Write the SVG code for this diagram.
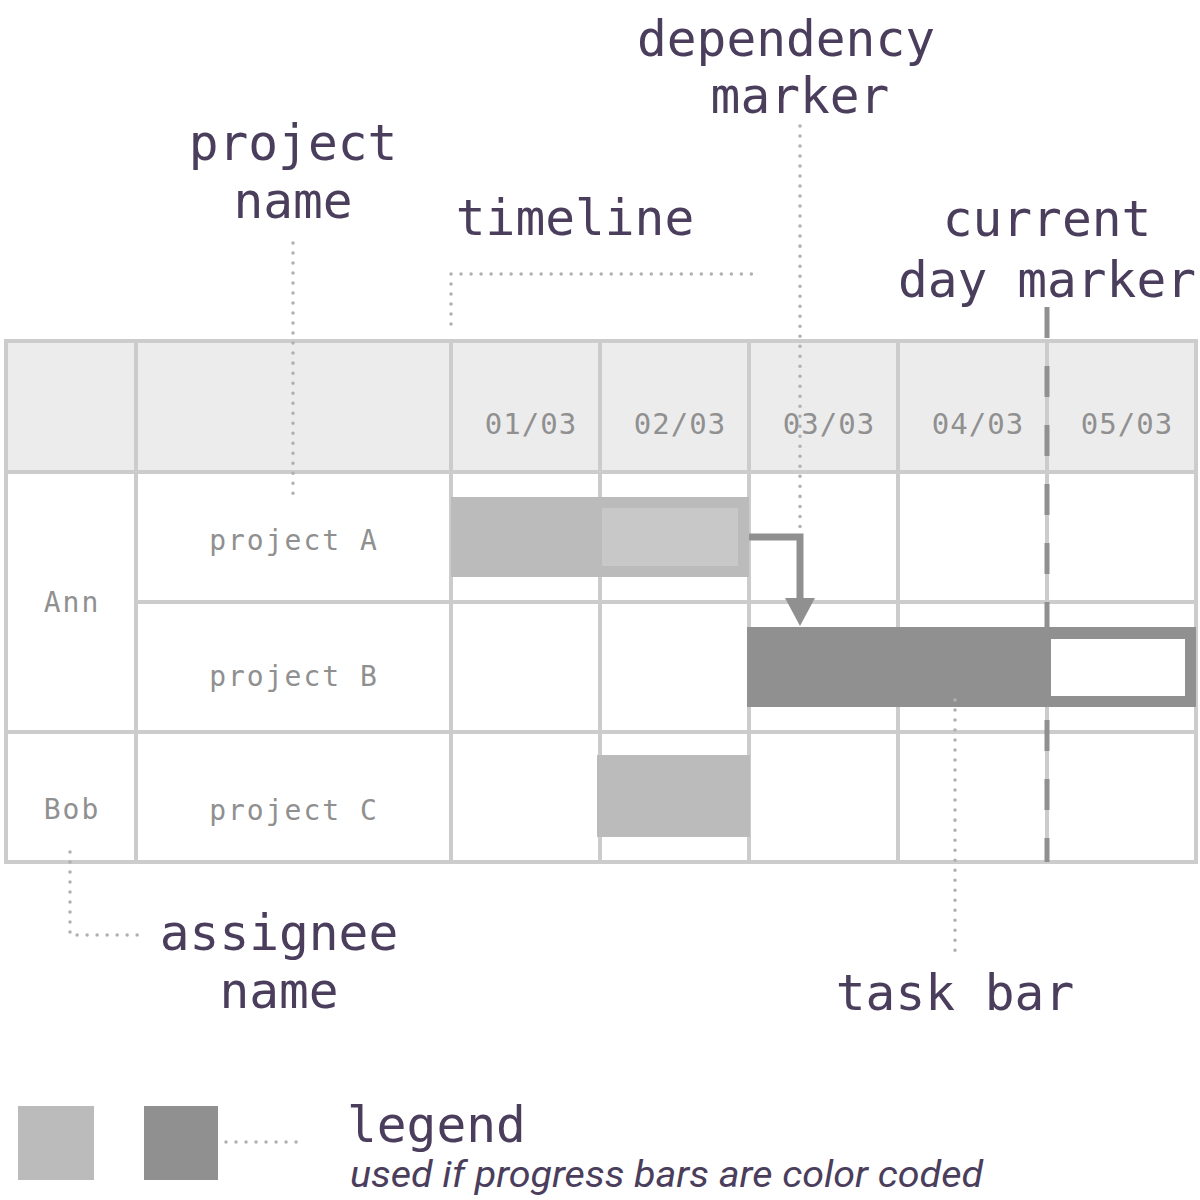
<svg xmlns="http://www.w3.org/2000/svg" width="1200" height="1200" viewBox="0 0 1200 1200">
<style>
.grid{stroke:#cccccc;stroke-width:4;fill:none}
.lead{stroke:#b0b0b0;stroke-width:3.5;stroke-linecap:round;stroke-dasharray:0.01 10;fill:none}
.big{font-family:"DejaVu Sans Mono","Liberation Mono",monospace;font-size:49.5px;fill:#4a3e5c;text-anchor:middle}
.hdr{font-family:"DejaVu Sans Mono","Liberation Mono",monospace;font-size:29px;fill:#909090;text-anchor:middle;letter-spacing:1px}
.cell{font-family:"DejaVu Sans Mono","Liberation Mono",monospace;font-size:28px;fill:#909090;text-anchor:middle;letter-spacing:2px}
.light{fill:#bbbbbb}
.dark{fill:#909090}
</style>
<rect width="1200" height="1200" fill="#ffffff"/>
<g id="table">
<rect x="6" y="341" width="1190" height="131" fill="#ececec"/>
<rect x="6" y="341" width="1190" height="521" class="grid"/>
<path class="grid" d="M136 341V862M451 341V862M600 341V862M749 341V862M898 341V862M1047 341V862M6 472H1196M136 602H1196M6 732H1196"/>
<text class="hdr" x="531" y="434">01/03</text>
<text class="hdr" x="680" y="434">02/03</text>
<text class="hdr" x="829" y="434">03/03</text>
<text class="hdr" x="978" y="434">04/03</text>
<text class="hdr" x="1127" y="434">05/03</text>
<text class="cell" x="72" y="612">Ann</text>
<text class="cell" x="72" y="819">Bob</text>
<text class="cell" x="294" y="550">project A</text>
<text class="cell" x="294" y="686">project B</text>
<text class="cell" x="294" y="820">project C</text>
</g>
<g id="current-day-marker">
<line x1="1047" y1="307" x2="1047" y2="862" stroke="#909090" stroke-width="5" stroke-dasharray="31 28"/>
</g>
<g id="task-bars">
<rect class="light" x="451" y="497" width="298" height="80"/>
<rect x="602" y="508" width="136" height="58" fill="#c8c8c8"/>
<rect class="dark" x="747" y="627" width="449" height="80"/>
<rect x="1051" y="639" width="134" height="57" fill="#ffffff"/>
<rect class="light" x="597" y="755" width="153" height="82"/>
</g>
<g id="connectors">
<path d="M749 537H800V602" stroke="#909090" stroke-width="7" fill="none"/>
<polygon points="785,598 815,598 800,626" fill="#909090"/>
<path class="lead" d="M293 243V500"/>
<path class="lead" d="M451 324V274H752"/>
<path class="lead" d="M800 126V534"/>
<path class="lead" d="M70 852V935H138"/>
<path class="lead" d="M955 700V960"/>
<path class="lead" d="M226 1142H297"/>
</g>
<g id="labels">
<text class="big" x="293" y="160">project</text>
<text class="big" x="293" y="218">name</text>
<text class="big" x="575" y="235">timeline</text>
<text class="big" x="786" y="56">dependency</text>
<text class="big" x="800" y="113">marker</text>
<text class="big" x="1047" y="236">current</text>
<text class="big" x="1047" y="297">day marker</text>
<text class="big" x="279" y="950">assignee</text>
<text class="big" x="279" y="1008">name</text>
<text class="big" x="955" y="1010">task bar</text>
</g>
<g id="legend">
<rect class="light" x="18" y="1106" width="76" height="74"/>
<rect class="dark" x="144" y="1106" width="74" height="74"/>
<text class="big" x="347" y="1142" style="text-anchor:start">legend</text>
<text x="350" y="1187" font-family="Roboto,'Noto Sans',sans-serif" font-style="italic" font-size="36" fill="#4a3e5c" textLength="633" lengthAdjust="spacingAndGlyphs">used if progress bars are color coded</text>
</g>
</svg>
